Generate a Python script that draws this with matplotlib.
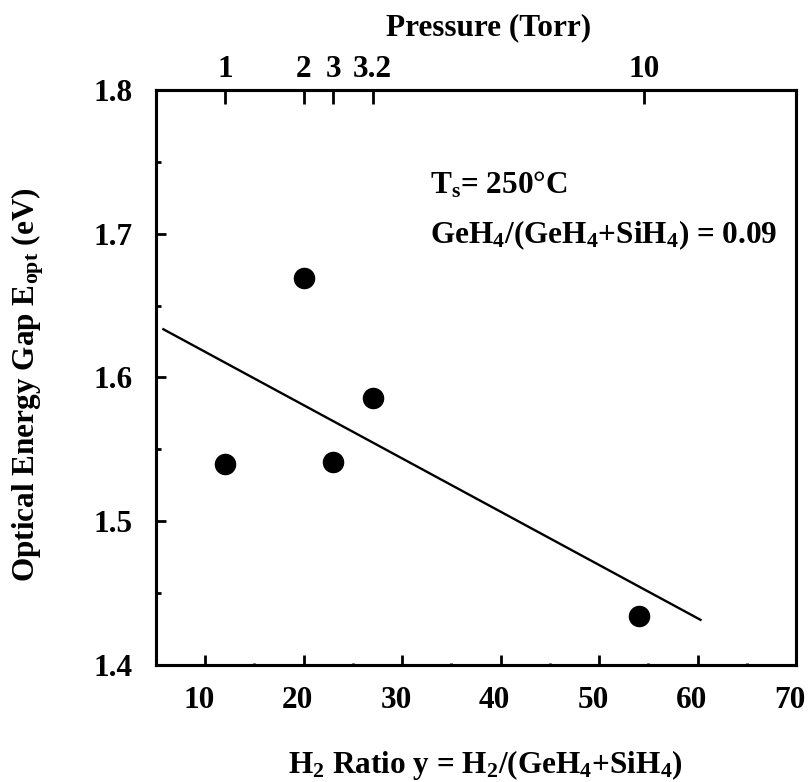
import numpy as np
import matplotlib
matplotlib.use("Agg")
import matplotlib.pyplot as plt
import matplotlib.transforms as mtransforms
from matplotlib.ticker import MultipleLocator, FormatStrFormatter

# measured points: H2 ratio vs optical gap
h2_ratio = [12, 20, 23, 27, 54.1]
e_opt = [1.540, 1.669, 1.541, 1.586, 1.434]
fit_range = [5.75, 60.3]          # x span of the drawn linear fit

# top axis: deposition pressure mapped onto H2 ratio
pressure_pos = [12, 20, 23, 27, 54.6]
pressure_labels = ["1", "2", "3", "3.2", "10"]

plt.rcParams.update({
    "font.family": "Liberation Serif",
    "font.weight": "bold",
    "mathtext.fontset": "custom",
    "mathtext.rm": "Liberation Serif:bold",
    "mathtext.it": "Liberation Serif:bold:italic",
    "mathtext.bf": "Liberation Serif:bold",
    "mathtext.default": "rm",
})

FS = 22.5
W, H = 810, 782
fig = plt.figure(figsize=(W / 100, H / 100), dpi=100)
ax = fig.add_axes([156 / W, 1 - 665 / H, 640 / W, 575 / H])

ax.plot(h2_ratio, e_opt, "o", color="black", ms=14.5, zorder=3)
slope, icpt = np.polyfit(h2_ratio, e_opt, 1)
xf = np.array(fit_range)
ax.plot(xf, slope * xf + icpt, color="black", lw=1.7)

ax.set_xlim(5, 70)
ax.set_ylim(1.4, 1.8)
ax.xaxis.set_major_locator(MultipleLocator(10))
ax.xaxis.set_minor_locator(MultipleLocator(5))
ax.yaxis.set_major_locator(MultipleLocator(0.1))
ax.yaxis.set_minor_locator(MultipleLocator(0.05))
ax.tick_params(axis="both", which="both", direction="in", width=2,
               top=False, right=False, labelsize=FS)
ax.tick_params(axis="x", which="major", length=7, pad=15)
ax.tick_params(axis="x", which="minor", length=1.5)
ax.tick_params(axis="y", which="major", length=7, pad=17)
ax.tick_params(axis="y", which="minor", length=3.5)
ax.yaxis.set_major_formatter(FormatStrFormatter("%.1f"))
for s in ax.spines.values():
    s.set_linewidth(2.2)

# bottom labels sit a few pixels left of their ticks in the original
shift = mtransforms.ScaledTranslation(-6 / 100, 0, fig.dpi_scale_trans)
for lbl in ax.get_xticklabels():
    lbl.set_transform(lbl.get_transform() + shift)

top = ax.twiny()
top.set_xlim(ax.get_xlim())
top.set_xticks(pressure_pos)
top.set_xticklabels(pressure_labels)
top.tick_params(axis="x", direction="in", length=10, width=2, pad=4, labelsize=FS)
for s in top.spines.values():
    s.set_linewidth(2.2)

ax.text(0.428, 0.835, r"T$_s$= 250°C", transform=ax.transAxes,
        fontsize=FS, ha="left", va="center")
ax.text(0.428, 0.748, r"GeH$_4$/(GeH$_4$+SiH$_4$) = 0.09", transform=ax.transAxes,
        fontsize=FS, ha="left", va="center")

fig.text(489 / W, 1 - 28 / H, "Pressure (Torr)", fontsize=FS, ha="center", va="center")
fig.text(485 / W, 1 - 765 / H, r"H$_2$ Ratio y = H$_2$/(GeH$_4$+SiH$_4$)",
         fontsize=FS, ha="center", va="center")
fig.text(28 / W, 1 - 385 / H, r"Optical Energy Gap E$_{opt}$ (eV)", fontsize=FS,
         rotation=90, ha="center", va="center")

fig.savefig("out.png", dpi=100)
